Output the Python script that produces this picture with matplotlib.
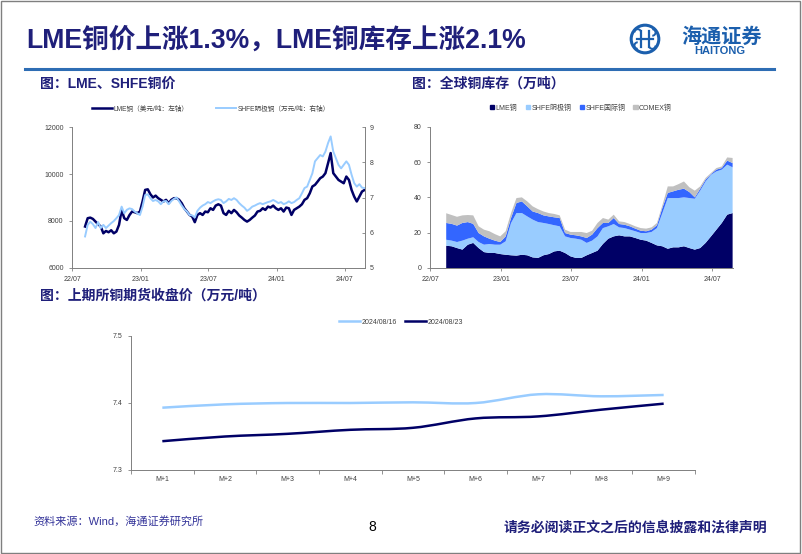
import numpy as np
import pandas as pd
import matplotlib
matplotlib.use("Agg")
import matplotlib.pyplot as plt
import matplotlib.dates as mdates
from matplotlib.path import Path
from matplotlib.patches import PathPatch, Patch, Circle, Rectangle, Arc
from matplotlib.lines import Line2D

plt.rcParams['font.family'] = ['Liberation Sans', 'Noto Sans CJK SC', 'DejaVu Sans']

# ---- data ----
price_dates = pd.date_range('2022-08-05', periods=108, freq='7D')
lme_price = [7760, 8115, 8140, 8085, 7970, 7860, 7760, 7470, 7570, 7515,
             7600, 7470, 7545, 7830, 8470, 8115, 8040, 8250, 8400, 8370,
             8330, 8400, 8830, 9325, 9350, 9140, 9000, 9080, 8970, 8900,
             8830, 8900, 8755, 8900, 8970, 8970, 8900, 8755, 8540, 8400,
             8255, 8185, 7945, 8255, 8330, 8255, 8400, 8370, 8540, 8470,
             8655, 8710, 8655, 8330, 8255, 8430, 8330, 8470, 8370, 8230,
             8140, 8040, 7970, 8040, 8140, 8230, 8400, 8430, 8540, 8470,
             8610, 8570, 8655, 8540, 8470, 8540, 8400, 8570, 8540, 8255,
             8470, 8540, 8610, 8710, 8900, 8970, 9180, 9470, 9540, 9680,
             9825, 9895, 10040, 10465, 10900, 10040, 9895, 9750, 9680, 9610,
             9895, 9750, 9325, 9040, 8830, 9040, 9255, 9325]
shfe_price = [5.89, 6.22, 6.31, 6.24, 6.13, 6.30, 6.13, 6.22, 6.13, 6.20,
              6.27, 6.33, 6.41, 6.50, 6.74, 6.55, 6.65, 6.69, 6.67, 6.60,
              6.55, 6.50, 6.74, 7.07, 7.09, 6.98, 6.90, 6.93, 6.89, 6.81,
              6.89, 6.90, 6.81, 6.90, 6.96, 7.00, 6.89, 6.77, 6.67, 6.60,
              6.50, 6.49, 6.43, 6.62, 6.71, 6.77, 6.81, 6.87, 6.84, 6.89,
              6.93, 6.95, 6.93, 6.84, 6.89, 6.96, 6.93, 6.98, 6.93, 6.84,
              6.77, 6.71, 6.62, 6.67, 6.74, 6.77, 6.81, 6.84, 6.81, 6.84,
              6.87, 6.89, 6.93, 6.89, 6.84, 6.87, 6.81, 6.84, 6.89, 6.84,
              6.87, 6.93, 6.98, 7.12, 7.27, 7.31, 7.50, 7.69, 8.03, 8.12,
              8.21, 8.17, 8.31, 8.55, 8.74, 8.31, 8.12, 7.93, 7.83, 7.93,
              8.03, 7.93, 7.65, 7.41, 7.31, 7.38, 7.28, 7.27]

stock_dates = pd.date_range('2022-08-12', periods=54, freq='14D')
lme_stock = [12.6, 12.3, 11.3, 10.4, 13.2, 14.2, 11.3, 9.0, 8.5, 8.5,
             7.9, 7.5, 7.2, 7.0, 7.5, 7.2, 6.0, 5.7, 7.2, 7.9,
             9.4, 9.8, 8.5, 6.6, 5.7, 5.7, 7.2, 8.5, 9.8, 13.6,
             16.6, 17.9, 18.5, 17.9, 17.9, 17.0, 16.0, 15.5, 14.2, 12.8,
             12.3, 10.9, 11.7, 11.7, 12.3, 11.3, 10.4, 11.3, 14.2, 17.9,
             21.7, 25.5, 30.2, 31.1]
shfe_stock = [3.4, 3.2, 3.4, 5.1, 3.4, 3.2, 3.4, 4.2, 5.1, 4.7,
              5.3, 7.6, 18.3, 24.1, 23.6, 22.0, 21.4, 20.3, 18.3, 17.0,
              14.8, 13.8, 9.4, 10.4, 10.9, 10.3, 7.0, 7.0, 8.1, 9.0,
              7.0, 7.0, 4.5, 4.7, 3.8, 3.8, 3.8, 4.3, 6.2, 9.8,
              18.8, 28.7, 27.9, 27.9, 27.7, 28.3, 28.8, 32.5, 34.8, 34.9,
              33.0, 30.2, 28.3, 25.9]
intl_stock = [9.5, 9.5, 9.3, 10.0, 9.4, 7.6, 5.1, 4.7, 3.0, 2.3,
              1.5, 2.8, 2.8, 5.7, 6.6, 5.7, 4.6, 5.1, 4.3, 4.3,
              4.5, 4.7, 1.9, 1.9, 1.9, 1.9, 2.8, 3.4, 4.7, 2.9,
              1.9, 3.4, 1.9, 1.9, 1.9, 1.5, 1.3, 1.0, 1.3, 1.6,
              2.9, 2.9, 3.8, 4.7, 4.9, 3.4, 0.8, 1.1, 1.0, 0.4,
              1.0, 0.9, 2.3, 2.4]
comex_stock = [5.5, 5.0, 5.0, 4.3, 4.0, 4.8, 3.8, 3.8, 4.2, 3.7,
               3.2, 2.9, 2.8, 2.8, 2.3, 2.8, 2.9, 2.2, 2.2, 1.9,
               1.9, 1.5, 1.9, 1.5, 1.9, 2.5, 2.8, 2.2, 2.9, 2.8,
               1.9, 1.9, 1.5, 1.5, 1.3, 1.3, 1.5, 1.5, 1.3, 1.3,
               1.5, 3.7, 2.8, 3.2, 4.1, 2.7, 3.8, 1.3, 1.0, 0.6,
               0.9, 0.9, 1.8, 2.9]

months = ['M+1', 'M+2', 'M+3', 'M+4', 'M+5', 'M+6', 'M+7', 'M+8', 'M+9']
curve_0816 = [7.393, 7.398, 7.400, 7.400, 7.401, 7.400, 7.413, 7.410, 7.412]
curve_0823 = [7.343, 7.350, 7.354, 7.360, 7.363, 7.377, 7.380, 7.390, 7.399]

NAVY = '#1f1f7a'
DARK = '#000066'
LIGHT = '#99ccff'
MID = '#3366ff'
GRAY = '#c0c0c0'
TICK = '#404040'
W, H = 802, 554


def fx(px):
    return px / W


def fy(py):
    return 1 - py / H


def style_axis(ax):
    ax.spines['top'].set_visible(False)
    ax.spines['right'].set_visible(False)
    for s in ('left', 'bottom'):
        ax.spines[s].set_color('#808080')
        ax.spines[s].set_linewidth(0.7)
    ax.tick_params(labelsize=5, colors=TICK, length=2.5, width=0.6)
    ax.tick_params(axis='both', color='#808080')


def smooth_path(xs, ys):
    # excel style smoothed line: bezier through every point
    pts = np.column_stack([xs, ys]).astype(float)
    ext = np.vstack([pts[0], pts, pts[-1]])
    verts = [pts[0]]
    codes = [Path.MOVETO]
    for k in range(len(pts) - 1):
        p0, p1, p2, p3 = ext[k], ext[k + 1], ext[k + 2], ext[k + 3]
        verts += [p1 + (p2 - p0) / 6, p2 - (p3 - p1) / 6, p2]
        codes += [Path.CURVE4] * 3
    return Path(verts, codes)


fig = plt.figure(figsize=(W / 100, H / 100), dpi=100)

# header
fig.text(fx(26), fy(40), 'LME铜价上涨1.3%，LME铜库存上涨2.1%', fontsize=19.2,
         fontweight='bold', color=NAVY, va='center', ha='left')
fig.add_artist(Line2D([fx(25), fx(774)], [fy(69), fy(69)], color='#2e6db4', lw=2.2))
fig.text(fx(40), fy(84), '图：LME、SHFE铜价', fontsize=10, fontweight='bold',
         color=NAVY, va='center')
fig.text(fx(412), fy(84), '图：全球铜库存（万吨）', fontsize=10, fontweight='bold',
         color=NAVY, va='center')

# logo
lax = fig.add_axes([fx(629), fy(55), fx(32), 32 / H])
lax.set_xlim(-1.1, 1.1)
lax.set_ylim(-1.1, 1.1)
lax.set_aspect('equal')
lax.axis('off')
logo_blue = '#1b5fad'
lax.add_patch(Circle((0, 0), 0.95, fill=False, ec=logo_blue, lw=2.2))
lax.plot([-0.55, 0.55], [0, 0], color=logo_blue, lw=1.6)
lax.plot([-0.25, -0.25], [-0.55, 0.55], color=logo_blue, lw=1.6)
lax.plot([0.25, 0.25], [-0.55, 0.55], color=logo_blue, lw=1.6)
for cx, cy, t1, t2 in [(-0.5, 0.45, 0, 180), (0.5, -0.45, 180, 360),
                       (0.5, 0.45, 270, 90), (-0.5, -0.45, 90, 270)]:
    lax.add_patch(Arc((cx, cy), 0.45, 0.45, theta1=t1, theta2=t2, color=logo_blue, lw=1.4))
fig.text(fx(722), fy(36), '海通证券', fontsize=14.5, fontweight='bold', color=logo_blue,
         ha='center', va='center', family=['Noto Sans CJK SC'])
fig.text(fx(720), fy(51), 'HAITONG', fontsize=8, fontweight='bold', color=logo_blue,
         ha='center', va='center')

# ---- chart 1: prices ----
ax1 = fig.add_axes([fx(72), fy(267.7), fx(293), 140.4 / H])
style_axis(ax1)
ax1.plot(price_dates, lme_price, color=DARK, lw=1.8, label='LME铜（美元/吨：左轴）')
ax1.set_ylim(6000, 12000)
ax1.set_yticks([6000, 8000, 10000, 12000])
ax1.set_xlim(pd.Timestamp('2022-07-01'), pd.Timestamp('2024-08-24'))
ax1.set_xticks(pd.to_datetime(['2022-07-01', '2023-01-01', '2023-07-01', '2024-01-01', '2024-07-01']))
ax1.xaxis.set_major_formatter(mdates.DateFormatter('%y/%m'))
ax1b = ax1.twinx()
ax1b.plot(price_dates, shfe_price, color=LIGHT, lw=1.4, label='SHFE阴极铜（万元/吨：右轴）')
ax1b.set_ylim(5, 9)
ax1b.set_yticks([5, 6, 7, 8, 9])
for s in ('top', 'left', 'bottom'):
    ax1b.spines[s].set_visible(False)
ax1b.spines['right'].set_color('#808080')
ax1b.spines['right'].set_linewidth(0.7)
ax1b.tick_params(labelsize=5, colors=TICK, length=2.5, width=0.6, direction='in')
ax1b.tick_params(axis='y', color='#808080')
h1 = [Line2D([], [], color=DARK, lw=1.8), Line2D([], [], color=LIGHT, lw=1.4)]
fig.legend(h1, ['LME铜（美元/吨：左轴）', 'SHFE阴极铜（万元/吨：右轴）'],
           loc='center', bbox_to_anchor=(fx(211), fy(109)), ncol=2, frameon=False,
           fontsize=4.8, handlelength=3.0, columnspacing=4.2, handletextpad=0.2,
           labelcolor=TICK)

# ---- chart 2: inventories ----
ax2 = fig.add_axes([fx(430), fy(268), fx(303), 141.3 / H])
style_axis(ax2)
ax2.stackplot(stock_dates, lme_stock, shfe_stock, intl_stock, comex_stock,
              colors=[DARK, LIGHT, MID, GRAY], lw=0)
ax2.set_ylim(0, 80)
ax2.set_yticks([0, 20, 40, 60, 80])
ax2.set_xlim(pd.Timestamp('2022-07-01'), pd.Timestamp('2024-08-24'))
ax2.set_xticks(pd.to_datetime(['2022-07-01', '2023-01-01', '2023-07-01', '2024-01-01', '2024-07-01']))
ax2.xaxis.set_major_formatter(mdates.DateFormatter('%y/%m'))
h2 = [Patch(color=c) for c in (DARK, LIGHT, MID, GRAY)]
fig.legend(h2, ['LME铜', 'SHFE阴极铜', 'SHFE国际铜', 'COMEX铜'],
           loc='center', bbox_to_anchor=(fx(581), fy(108)), ncol=4, frameon=False,
           fontsize=5, handlelength=0.6, handleheight=0.6, columnspacing=1.2,
           handletextpad=0.2, labelcolor=TICK)

# ---- chart 3: futures curve ----
fig.text(fx(40), fy(296), '图：上期所铜期货收盘价（万元/吨）', fontsize=10, fontweight='bold',
         color=NAVY, va='center')
ax3 = fig.add_axes([fx(131), fy(470), fx(564), 134 / H])
style_axis(ax3)
xs = np.arange(len(months))
ax3.add_patch(PathPatch(smooth_path(xs, curve_0816), fill=False, ec=LIGHT, lw=1.8))
ax3.add_patch(PathPatch(smooth_path(xs, curve_0823), fill=False, ec=DARK, lw=1.8))
ax3.set_xlim(-0.5, len(months) - 0.5)
ax3.set_ylim(7.3, 7.5)
ax3.set_yticks([7.3, 7.4, 7.5])
ax3.set_xticks(xs)
ax3.set_xticklabels(months)
ax3.tick_params(axis='x', length=0, pad=4)
ax3.set_xticks(np.arange(-0.5, len(months)), minor=True)
ax3.tick_params(axis='x', which='minor', length=3, color='#808080', width=0.6)
h3 = [Line2D([], [], color=LIGHT, lw=1.8), Line2D([], [], color=DARK, lw=1.8)]
fig.legend(h3, ['2024/08/16', '2024/08/23'], loc='center', bbox_to_anchor=(fx(401), fy(322)),
           ncol=2, frameon=False, fontsize=5, handlelength=3.0, columnspacing=1.2,
           handletextpad=0.2, labelcolor=TICK)

# footer
fig.text(fx(33), fy(521), '资料来源：Wind，海通证券研究所', fontsize=8, color='#333399', va='center')
fig.text(fx(372), fy(527), '8', fontsize=10, color='black', ha='center', va='center')
fig.text(fx(767), fy(528), '请务必阅读正文之后的信息披露和法律声明', fontsize=10, fontweight='bold',
         color=NAVY, ha='right', va='center')
fig.add_artist(Rectangle((0.001, 0.001), 0.997, 0.997, transform=fig.transFigure,
                         fill=False, ec='#7f7f7f', lw=1))

fig.savefig('out.png', dpi=100)
